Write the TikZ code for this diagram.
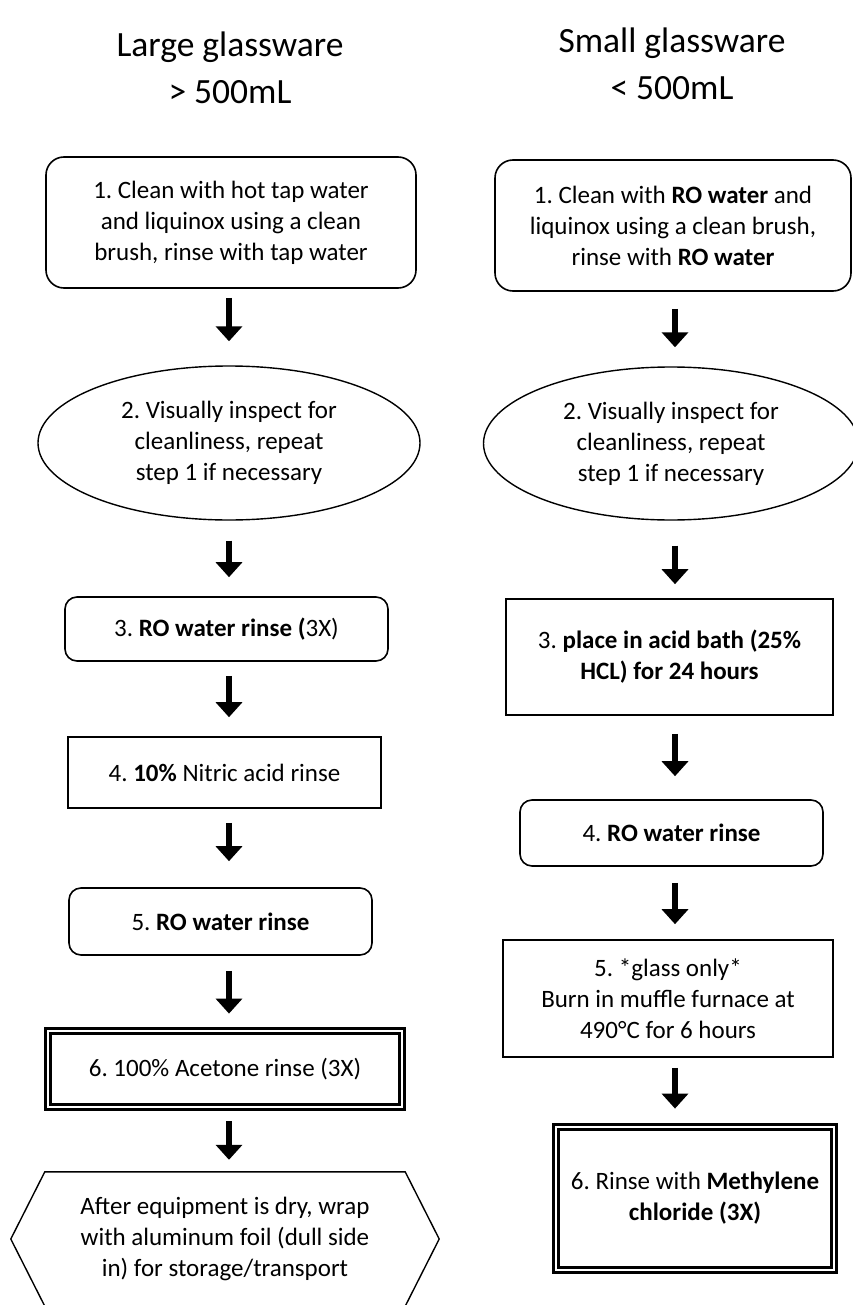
\documentclass[tikz,border=0pt]{standalone}
\usepackage{fontspec}
\setmainfont{Carlito}
\usetikzlibrary{shapes.geometric,arrows.meta,calc}
\frenchspacing
\begin{document}
\begin{tikzpicture}[x=1pt,y=-1pt,
  txt/.style={align=center,inner sep=0pt,font=\fontsize{25}{31}\selectfont},
  head/.style={align=center,inner sep=0pt,font=\fontsize{35.5}{47}\selectfont},
  rbox/.style={txt,draw,line width=1.6pt,rounded corners=12pt},
  sbox/.style={txt,draw,line width=1.6pt},
  oval/.style={txt,draw,ellipse,line width=1.4pt},
  dbox/.style={txt,draw,line width=2.8pt,double,double distance=2.6pt},
  bigarrow/.style={line width=6.5pt,-{Triangle[width=26pt,length=15pt]}}]
\useasboundingbox (0,0) rectangle (853,1305);
% headers
\node[head] (hl) at (230,68) {Large glassware\\> 500mL};
\node[head] (hr) at (672,64) {Small glassware\\< 500mL};
\coordinate (xl) at (229,0);
\coordinate (xr) at (675,0);
% left column
\node[rbox,rounded corners=18pt,minimum width=370pt,minimum height=131pt] (L1) at (231,222.5)
  {1. Clean with hot tap water\\and liquinox using a clean\\brush, rinse with tap water};
\node[oval,minimum width=382pt,minimum height=154pt] (L2) at (229,443)
  {2. Visually inspect for\\cleanliness, repeat\\step 1 if necessary};
\node[rbox,minimum width=323pt,minimum height=64pt] (L3) at (226.5,629)
  {3. \textbf{RO water rinse (}3X)};
\node[sbox,minimum width=313pt,minimum height=71pt] (L4) at (224.5,772.5)
  {4. \textbf{10\%} Nitric acid rinse};
\node[rbox,minimum width=303pt,minimum height=67pt] (L5) at (220.5,921.5)
  {5. \textbf{RO water rinse}};
\node[dbox,minimum width=354pt,minimum height=76pt] (L6) at (225,1069)
  {6. 100\% Acetone rinse (3X)};
\node[txt,minimum width=360pt,minimum height=134pt] (L7) at (225,1239)
  {After equipment is dry, wrap\\with aluminum foil (dull side\\in) for storage/transport};
\draw[line width=1.4pt] (L7.north west) -- (L7.north east) -- ($(L7.east)+(34pt,0)$)
  -- (L7.south east) -- (L7.south west) -- ($(L7.west)+(-34pt,0)$) -- cycle;
% right column
\node[rbox,rounded corners=18pt,minimum width=356pt,minimum height=131pt] (R1) at (673,225.5)
  {1. Clean with \textbf{RO water} and\\liquinox using a clean brush,\\rinse with \textbf{RO water}};
\node[oval,minimum width=375pt,minimum height=153pt] (R2) at (671,443.5)
  {2. Visually inspect for\\cleanliness, repeat\\step 1 if necessary};
\node[sbox,minimum width=327pt,minimum height=116pt] (R3) at (669.5,657)
  {3. \textbf{place in acid bath (25\%}\\\textbf{HCL) for 24 hours}};
\node[rbox,minimum width=303pt,minimum height=66pt] (R4) at (671.5,833)
  {4. \textbf{RO water rinse}};
\node[sbox,minimum width=330pt,minimum height=117pt] (R5) at (668,998.5)
  {5. *glass only*\\Burn in muffle furnace at\\490°C for 6 hours};
\node[dbox,minimum width=278pt,minimum height=143pt] (R6) at (695,1198.5)
  {6. Rinse with \textbf{Methylene}\\\textbf{chloride (3X)}};
% left arrows
\draw[bigarrow,shorten <=9pt,shorten >=24pt] (L1.south -| xl) -- (L2.north -| xl);
\draw[bigarrow,shorten <=20pt,shorten >=19pt] (L2.south -| xl) -- (L3.north -| xl);
\draw[bigarrow,shorten <=14pt,shorten >=19pt] (L3.south -| xl) -- (L4.north -| xl);
\draw[bigarrow,shorten <=14pt,shorten >=26pt] (L4.south -| xl) -- (L5.north -| xl);
\draw[bigarrow,shorten <=15pt,shorten >=16pt] (L5.south -| xl) -- (L6.north -| xl);
\draw[bigarrow,shorten <=13pt,shorten >=12pt] (L6.south -| xl) -- (L7.north -| xl);
% right arrows
\draw[bigarrow,shorten <=17pt,shorten >=19pt] (R1.south -| xr) -- (R2.north -| xr);
\draw[bigarrow,shorten <=25pt,shorten >=14pt] (R2.south -| xr) -- (R3.north -| xr);
\draw[bigarrow,shorten <=18pt,shorten >=23pt] (R3.south -| xr) -- (R4.north -| xr);
\draw[bigarrow,shorten <=16pt,shorten >=15pt] (R4.south -| xr) -- (R5.north -| xr);
\draw[bigarrow,shorten <=10pt,shorten >=17pt] (R5.south -| xr) -- (R6.north -| xr);
\end{tikzpicture}
\end{document}
